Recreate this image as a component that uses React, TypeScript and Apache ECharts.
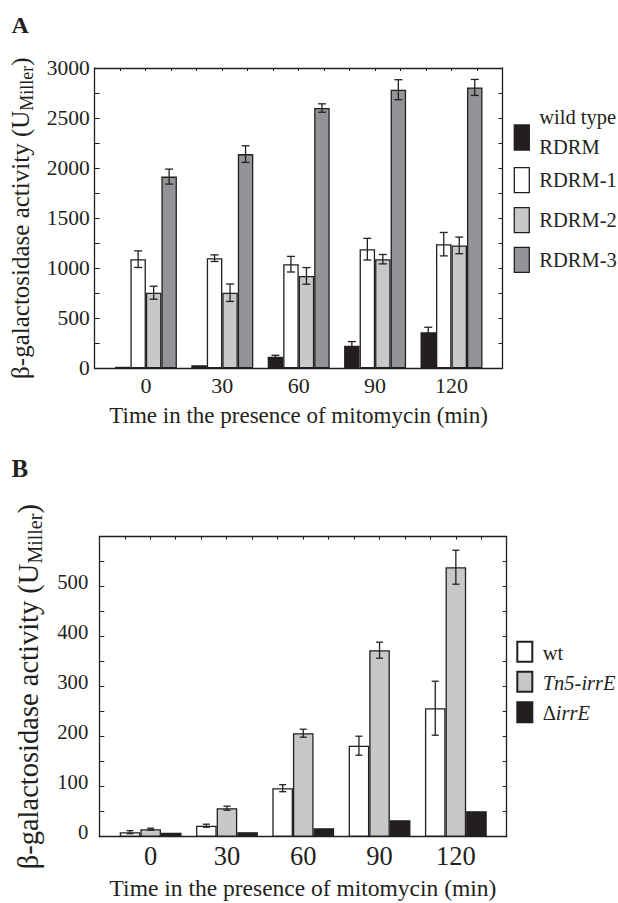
import React, { useEffect, useRef } from "react";
import * as echarts from "echarts";

const FONT = "'Liberation Serif', 'Times New Roman', serif";
const INK = "#231f20";
const BLACK = "#231f20";
const LIGHT = "#c7c8ca";
const DARK = "#929497";

// Panel A
const categoriesA = ["0", "30", "60", "90", "120"];
const wildTypeA = [15, 30, 115, 225, 360];
const wildTypeErrA = [0, 0, 15, 42, 50];
const rdrm1A = [1090, 1100, 1040, 1190, 1240];
const rdrm1ErrA = [83, 33, 78, 108, 117];
const rdrm2A = [755, 755, 923, 1090, 1228];
const rdrm2ErrA = [65, 87, 83, 47, 83];
const rdrm3A = [1915, 2140, 2600, 2783, 2806];
const rdrm3ErrA = [75, 83, 42, 100, 80];
const seriesNamesA = ["wild type RDRM", "RDRM-1", "RDRM-2", "RDRM-3"];

// Panel B
const categoriesB = ["0", "30", "60", "90", "120"];
const wtB = [9, 22, 97, 182, 257];
const wtErrB = [3, 3, 7, 19, 54];
const tn5B = [15, 57, 207, 373, 539];
const tn5ErrB = [2, 4, 8, 16, 34];
const deltaB = [8, 9, 17, 33, 51];
const deltaErrB = [0, 0, 0, 0, 0];
const seriesNamesB = ["wt", "Tn5-irrE", "ΔirrE"];

const yTitle = "{a|β-galactosidase activity (U}{s|Miller}{a|)}";
const xTitle = "Time in the presence of mitomycin (min)";

function errData(vals: number[][], errs: number[][]) {
  const out: number[][] = [];
  vals.forEach((arr, s) => {
    arr.forEach((v, i) => {
      const e = errs[s][i];
      if (e > 0) out.push([i, v - e, v + e, s]);
    });
  });
  return out;
}

function errSeries(xi: number, yi: number, data: number[][], n: number, bw: number, cap: number) {
  return {
    type: "custom",
    xAxisIndex: xi,
    yAxisIndex: yi,
    z: 10,
    data,
    encode: { x: 0, y: [1, 2] },
    renderItem: (params: any, api: any) => {
      const cat = api.value(0);
      const lo = api.value(1);
      const hi = api.value(2);
      const si = api.value(3);
      const base = api.coord([cat, lo]);
      const top = api.coord([cat, hi]);
      const x = base[0] + (si - (n - 1) / 2) * bw;
      const st = { stroke: INK, lineWidth: 1.3 };
      return {
        type: "group",
        children: [
          { type: "line", shape: { x1: x, y1: base[1], x2: x, y2: top[1] }, style: st },
          { type: "line", shape: { x1: x - cap / 2, y1: base[1], x2: x + cap / 2, y2: base[1] }, style: st },
          { type: "line", shape: { x1: x - cap / 2, y1: top[1], x2: x + cap / 2, y2: top[1] }, style: st },
        ],
      };
    },
  };
}

export default function App() {
  const ref = useRef<HTMLDivElement>(null);
  useEffect(() => {
    document.body.style.margin = "0";
    const chart = echarts.init(ref.current!, null, { renderer: "svg" });

    const g = (left: number, top: number, width: number, height: number) => ({
      left, top, width, height, containLabel: false, outerBoundsMode: "none",
    });
    const grids = [
      g(94.7, 68, 407.8, 300.3),
      g(107.7, 68, 382, 300.3),
      g(99.3, 536.7, 407.4, 300),
      g(112.5, 536.7, 381.5, 300),
    ];

    const lineStyle = { color: INK, width: 1.3 };
    const frameBottom = (grid: number, gap: number, fs: number) => ({
      type: "value",
      gridIndex: grid,
      position: "bottom",
      min: -2,
      max: 14,
      interval: 1,
      axisLine: { show: true, onZero: false, lineStyle },
      axisTick: { show: false },
      axisLabel: { show: false },
      splitLine: { show: false },
      name: xTitle,
      nameLocation: "middle",
      nameGap: gap,
      nameTextStyle: { fontFamily: FONT, fontSize: fs, color: INK },
    });
    const frameTop = (grid: number) => ({
      type: "value",
      gridIndex: grid,
      position: "top",
      min: -2,
      max: 14,
      interval: 1,
      axisLine: { show: true, onZero: false, lineStyle },
      axisTick: { show: true, inside: true, length: 3, lineStyle: { color: INK, width: 1 } },
      axisLabel: { show: false },
      splitLine: { show: false },
    });
    const dataX = (grid: number, cats: string[], fs: number, margin: number) => ({
      type: "category",
      gridIndex: grid,
      data: cats,
      axisLine: { show: false },
      axisTick: { show: false },
      axisLabel: { fontFamily: FONT, fontSize: fs, color: INK, margin },
    });
    const frameLeft = (
      grid: number, max: number, interval: number, labelStep: number, maxLabel: boolean,
      fs: number, margin: number, lift: number, nameFs: number, subFs: number, gap: number
    ) => ({
      type: "value",
      gridIndex: grid,
      position: "left",
      min: 0,
      max,
      interval,
      axisLine: { show: true, onZero: false, lineStyle },
      axisTick: { show: true, inside: true, length: 5, lineStyle: { color: INK, width: 1 } },
      axisLabel: {
        fontFamily: FONT,
        fontSize: fs,
        color: INK,
        margin,
        ...(lift > 0 ? { verticalAlign: "bottom", lineHeight: lift * 2 } : {}),
        formatter: (v: number) => (v % labelStep === 0 && (v < max || maxLabel) ? String(v) : ""),
      },
      splitLine: { show: false },
      name: yTitle,
      nameLocation: "middle",
      nameRotate: 90,
      nameGap: gap,
      nameTextStyle: {
        fontFamily: FONT,
        color: INK,
        rich: {
          a: { fontFamily: FONT, fontSize: nameFs, color: INK, lineHeight: nameFs * 1.2 },
          s: { fontFamily: FONT, fontSize: subFs, color: INK, lineHeight: subFs * 0.8, verticalAlign: "bottom" },
        },
      },
    });
    const frameRight = (grid: number, max: number, interval: number) => ({
      type: "value",
      gridIndex: grid,
      position: "right",
      min: 0,
      max,
      interval,
      axisLine: { show: true, onZero: false, lineStyle },
      axisTick: { show: true, inside: true, length: 4, lineStyle: { color: INK, width: 1 } },
      axisLabel: { show: false },
      splitLine: { show: false },
    });
    const dataY = (grid: number, max: number) => ({
      type: "value",
      gridIndex: grid,
      min: 0,
      max,
      show: false,
      splitLine: { show: false },
    });

    const bar = (name: string, data: number[], color: string, xi: number, yi: number, bw: number) => ({
      type: "bar",
      name,
      data,
      xAxisIndex: xi,
      yAxisIndex: yi,
      barWidth: bw,
      barGap: "0%",
      itemStyle: { color, borderColor: INK, borderWidth: 1.3 },
    });

    const bwA = 15.5;
    const bwB = 20.6;
    const valsA = [wildTypeA, rdrm1A, rdrm2A, rdrm3A];
    const errsA = [wildTypeErrA, rdrm1ErrA, rdrm2ErrA, rdrm3ErrA];
    const colsA = [BLACK, "#ffffff", LIGHT, DARK];
    const valsB = [wtB, tn5B, deltaB];
    const errsB = [wtErrB, tn5ErrB, deltaErrB];
    const colsB = ["#ffffff", LIGHT, BLACK];

    const legendA = [
      { y: 125, h: 25, c: BLACK, t: "wild type\nRDRM", ty: 131.7 },
      { y: 167.7, h: 25, c: "#ffffff", t: "RDRM-1", ty: 180 },
      { y: 207.7, h: 25, c: LIGHT, t: "RDRM-2", ty: 220 },
      { y: 247.3, h: 25, c: DARK, t: "RDRM-3", ty: 259.5 },
    ];
    const legendB = [
      { y: 641.7, h: 20, c: "#ffffff", t: "{u|wt}", ty: 652.7 },
      { y: 671.7, h: 20, c: LIGHT, t: "{i|Tn5-irrE}", ty: 682.5 },
      { y: 702.3, h: 20, c: BLACK, t: "{u|Δ}{i|irrE}", ty: 712.5 },
    ];

    const graphic: any[] = [
      { type: "text", x: 11.5, y: 25, style: { text: "A", fontFamily: FONT, fontWeight: "bold", fontSize: 24, fill: INK, verticalAlign: "middle" } },
      { type: "text", x: 11.5, y: 468.3, style: { text: "B", fontFamily: FONT, fontWeight: "bold", fontSize: 25, fill: INK, verticalAlign: "middle" } },
    ];
    legendA.forEach((l) => {
      graphic.push({ type: "rect", shape: { x: 514.3, y: l.y, width: 15, height: l.h }, style: { fill: l.c, stroke: INK, lineWidth: 1.3 } });
      graphic.push({
        type: "text",
        x: 539.3,
        y: l.ty,
        style: { text: l.t, fontFamily: FONT, fontSize: 20.5, fill: INK, verticalAlign: "middle", lineHeight: 30 },
      });
    });
    legendB.forEach((l) => {
      graphic.push({ type: "rect", shape: { x: 517.3, y: l.y, width: 15, height: l.h }, style: { fill: l.c, stroke: INK, lineWidth: 2 } });
      graphic.push({
        type: "text",
        x: 542.7,
        y: l.ty,
        style: {
          text: l.t,
          verticalAlign: "middle",
          rich: {
            u: { fontFamily: FONT, fontSize: 20.5, fill: INK },
            i: { fontFamily: FONT, fontSize: 20.5, fontStyle: "italic", fill: INK },
          },
        },
      });
    });

    const option: any = {
      animation: false,
      textStyle: { fontFamily: FONT },
      grid: grids,
      xAxis: [
        frameBottom(0, 36, 23),
        frameTop(0),
        dataX(1, categoriesA, 22, 6),
        frameBottom(2, 39, 23.5),
        frameTop(2),
        dataX(3, categoriesB, 26.5, 6),
      ],
      yAxis: [
        frameLeft(0, 3000, 250, 500, true, 21.5, 5, 0, 25, 18, 53),
        frameRight(0, 3000, 250),
        dataY(1, 3000),
        frameLeft(2, 600, 50, 100, false, 20.7, 11, 5, 28.5, 20, 54),
        frameRight(2, 600, 50),
        dataY(3, 600),
      ],
      series: [
        ...valsA.map((d, i) => bar(seriesNamesA[i], d, colsA[i], 2, 2, bwA)),
        errSeries(2, 2, errData(valsA, errsA), 4, bwA, 8),
        ...valsB.map((d, i) => bar(seriesNamesB[i], d, colsB[i], 5, 5, bwB)),
        errSeries(5, 5, errData(valsB, errsB), 3, bwB, 7),
      ],
      graphic,
    };
    chart.setOption(option);
    return () => chart.dispose();
  }, []);
  return <div ref={ref} style={{ width: 618, height: 903 }} />;
}
